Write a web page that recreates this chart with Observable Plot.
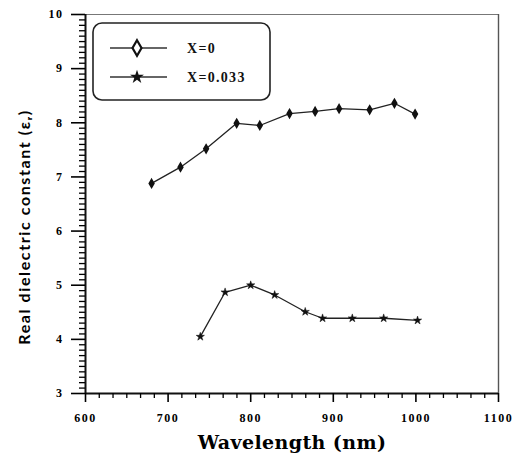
<!DOCTYPE html>
<html>
<head>
<meta charset="utf-8">
<script src="https://cdn.jsdelivr.net/npm/d3@7"></script>
<script src="https://cdn.jsdelivr.net/npm/@observablehq/plot@0.6"></script>
<style>
  body { margin: 0; background: #fff; overflow: hidden; }
  #wrap { position: relative; width: 517px; height: 462px; }
  #ticks { position: absolute; left: 0; top: 0; pointer-events: none; }
  #legend { position: absolute; left: 92px; top: 22px; pointer-events: none; }
</style>
</head>
<body>
<div id="wrap"></div>
<script>
// Wavelength (nm) and real dielectric constant for X=0
const wlX0 = [680, 715, 746, 783, 811, 847, 878, 907, 944, 974, 999];
const epsX0 = [6.88, 7.18, 7.52, 7.99, 7.95, 8.17, 8.21, 8.26, 8.24, 8.36, 8.16];
// X=0.033
const wlX033 = [739, 769, 800, 829, 866, 887, 923, 961, 1002];
const epsX033 = [4.05, 4.87, 5.0, 4.82, 4.51, 4.39, 4.39, 4.39, 4.35];

const seriesNames = ["X=0", "X=0.033"];
const xTicks = [600, 700, 800, 900, 1000, 1100];
const yTicks = [3, 4, 5, 6, 7, 8, 9, 10];
const xDomain = [600, 1100];
const yDomain = [3, 10];

const s1 = wlX0.map((x, i) => ({x, y: epsX0[i]}));
const s2 = wlX033.map((x, i) => ({x, y: epsX033[i]}));

const xMinor = d3.range(600, 1100.01, 100 / 6).filter(v => !xTicks.some(t => Math.abs(t - v) < 1e-6));
const yMinor = d3.range(3, 10.001, 0.1).map(v => +v.toFixed(2)).filter(v => !yTicks.includes(v));

const layout = {width: 517, height: 462, marginLeft: 85, marginRight: 19, marginTop: 14, marginBottom: 69,
  x: {domain: xDomain}, y: {domain: yDomain}};
const tickFont = {fontFamily: "Liberation Serif", fontWeight: "bold", fontSize: 12};

// Main chart: data, labels, axis lines
const chart = Plot.plot({
  ...layout,
  marks: [
    Plot.ruleY([yDomain[1]], {stroke: "#777", strokeWidth: 1.2}),
    Plot.ruleX([xDomain[1]], {stroke: "#555", strokeWidth: 1.4}),
    Plot.axisX({ticks: xTicks, tickSize: 0, tickPadding: 20, tickFormat: d => String(d),
      ...tickFont, label: "Wavelength (nm)", labelAnchor: "center", labelOffset: 55, labelArrow: "none"}),
    Plot.axisY({ticks: yTicks, tickSize: 0, tickPadding: 22, tickFormat: d => String(d),
      ...tickFont, label: "Real dielectric constant (εᵣ)", labelAnchor: "center", labelOffset: 67, labelArrow: "none"}),
    Plot.ruleX([xDomain[0]], {stroke: "#111", strokeWidth: 2}),
    Plot.ruleY([yDomain[0]], {stroke: "#111", strokeWidth: 2}),
    Plot.line(s1, {x: "x", y: "y", stroke: "#222", strokeWidth: 1.3}),
    Plot.dot(s1, {x: "x", y: "y", symbol: "diamond", r: 2.5, fill: "#111", stroke: "#111"}),
    Plot.line(s2, {x: "x", y: "y", stroke: "#222", strokeWidth: 1.3}),
    Plot.dot(s2, {x: "x", y: "y", symbol: "star", r: 2.6, fill: "#111", stroke: "#111", strokeWidth: 0.5})
  ]
});

const svg = d3.select(chart);
svg.selectAll('[aria-label="x-axis tick label"] text, [aria-label="y-axis tick label"] text')
  .style("letter-spacing", "1.5px");
svg.selectAll('[aria-label="x-axis label"] text')
  .style("font-family", "DejaVu Serif").style("font-weight", "bold").style("font-size", "19px")
  .style("letter-spacing", "0.4px");
svg.selectAll('[aria-label="y-axis label"] text')
  .style("font-family", "Lato").style("font-weight", "bold").style("font-size", "16px")
  .style("letter-spacing", "1.6px")
  .each(function () {
    const t = d3.select(this);
    t.attr("transform", (t.attr("transform") || "") + " translate(-23,0)");
  });
document.getElementById("wrap").appendChild(chart);

// Tick-mark layer: same scales and margins, only axis ticks
const tickChart = Plot.plot({
  ...layout,
  style: {background: "transparent"},
  marks: [
    Plot.axisX({ticks: xMinor, tickSize: 5, tickFormat: () => "", label: null, strokeWidth: 1.3}),
    Plot.axisX({ticks: xTicks, tickSize: 9, tickFormat: () => "", label: null, strokeWidth: 1.6}),
    Plot.axisY({ticks: yMinor, tickSize: 6, tickFormat: () => "", label: null, strokeWidth: 1.3}),
    Plot.axisY({ticks: yTicks, tickSize: 14, tickFormat: () => "", label: null, strokeWidth: 1.6})
  ]
});
tickChart.id = "ticks";
document.getElementById("wrap").appendChild(tickChart);

// Legend box (small overlay covering only the legend area)
const leg = d3.select("#wrap").append("svg")
  .attr("id", "legend").attr("width", 180).attr("height", 80);
leg.append("rect").attr("x", 1).attr("y", 1).attr("width", 177).attr("height", 77)
  .attr("rx", 9).attr("fill", "white").attr("stroke", "#222").attr("stroke-width", 1.6);
const symbols = [d3.symbolDiamond, d3.symbolStar];
seriesNames.forEach((name, i) => {
  const y = 26 + i * 29;
  leg.append("line").attr("x1", 18).attr("x2", 75).attr("y1", y).attr("y2", y)
    .attr("stroke", "#333").attr("stroke-width", 1.3);
  const p = leg.append("path").attr("transform", `translate(45,${y})`)
    .attr("d", d3.symbol(symbols[i], i === 0 ? 70 : 60)());
  if (i === 0) p.attr("fill", "white").attr("stroke", "#111").attr("stroke-width", 2.2);
  else p.attr("fill", "#111");
  leg.append("text").attr("x", 95).attr("y", y).attr("dy", "0.35em")
    .attr("font-family", "Liberation Serif").attr("font-weight", "bold").attr("font-size", 14)
    .attr("letter-spacing", "1.3px").attr("fill", "#111").text(name);
});
</script>
</body>
</html>
